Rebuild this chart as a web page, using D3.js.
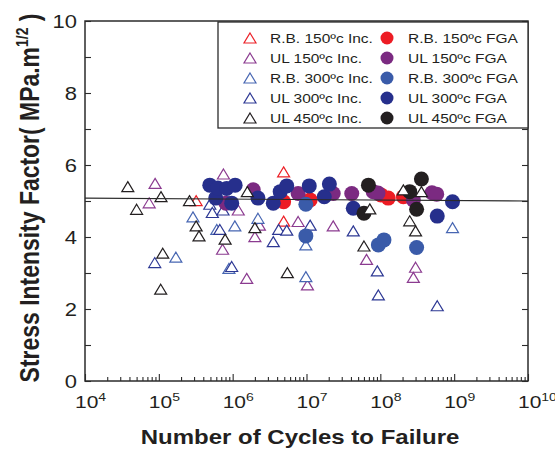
<!DOCTYPE html>
<html>
<head>
<meta charset="utf-8">
<script src="https://cdn.jsdelivr.net/npm/d3@7"></script>
<style>
  body { margin: 0; background: #fff; }
  text { font-family: "Liberation Sans", Arial, sans-serif; fill: #231f20; }
</style>
</head>
<body>
<div id="chart"></div>
<script>
// ---- data (cycles to failure N, stress intensity factor K) ----
const rb150IncN = [3.2e5, 4.9e6, 4.9e6];
const rb150IncK = [5.01, 5.81, 4.44];
const ul150IncN = [8.9e4, 7.4e4, 7.5e5, 7.3e5, 1.19e6, 2.3e6, 2.0e6, 7.7e6, 2.3e7, 6.5e7, 1.55e6, 1.03e7, 3.0e8, 2.8e8];
const ul150IncK = [5.49, 4.95, 5.75, 3.66, 4.75, 4.33, 4.01, 4.43, 4.31, 3.38, 2.85, 2.67, 3.16, 2.88];
const rb300IncN = [2.9e5, 1.7e5, 6.1e5, 8.9e5, 9.8e6, 9.8e6, 2.2e6, 1.07e6, 9.5e8];
const rb300IncK = [4.56, 3.44, 4.21, 3.13, 3.78, 2.90, 4.52, 4.31, 4.26];
const ul300IncN = [4.9e5, 5.3e5, 6.7e5, 8.8e4, 7.4e5, 1.12e7, 4.3e7, 4.2e6, 5.4e6, 3.55e6, 9.7e5, 9.1e7, 9.4e7, 5.9e8];
const ul300IncK = [4.91, 4.68, 4.21, 3.29, 4.75, 4.33, 4.17, 4.21, 4.19, 3.87, 3.18, 3.06, 2.39, 2.09];
const ul450IncN = [3.8e4, 1.07e5, 5.0e4, 2.6e5, 3.2e5, 3.5e5, 7.9e5, 1.13e5, 1.06e5, 1.58e6, 2.0e6, 5.5e6, 6.0e7, 7.2e7, 2.05e8, 3.6e8, 2.5e8, 3.0e8];
const ul450IncK = [5.40, 5.12, 4.77, 5.01, 4.31, 4.03, 3.94, 3.55, 2.55, 5.26, 4.26, 3.01, 3.75, 4.78, 5.31, 5.26, 4.45, 4.17];

const rb150FgaN = [4.9e6, 1.12e7, 1.02e8, 1.28e8, 2.05e8];
const rb150FgaK = [4.98, 5.03, 5.17, 5.08, 5.12];
const ul150FgaN = [8.1e5, 1.9e6, 7.7e6, 2.3e7, 4.1e7, 8.0e7, 9.3e7, 2.8e8, 5.0e8, 5.8e8];
const ul150FgaK = [4.94, 5.31, 5.21, 5.21, 5.21, 5.26, 5.22, 5.03, 5.23, 5.19];
const rb300FgaN = [9.8e6, 9.8e6, 9.4e7, 1.12e8, 3.1e8];
const rb300FgaK = [4.91, 4.03, 3.78, 3.92, 3.71];
const ul300FgaN = [4.9e5, 5.9e5, 6.3e5, 8.3e5, 1.08e6, 9.7e5, 2.2e6, 3.55e6, 4.4e6, 5.4e6, 1.09e7, 1.74e7, 2.04e7, 4.3e7, 5.9e8, 9.5e8];
const ul300FgaK = [5.44, 5.08, 5.36, 5.35, 5.44, 4.94, 5.08, 4.94, 5.26, 5.42, 5.42, 5.12, 5.47, 4.80, 4.58, 4.98];
const ul450FgaN = [6.9e7, 6.0e7, 2.5e8, 3.6e8, 3.1e8];
const ul450FgaK = [5.44, 4.66, 5.26, 5.61, 4.77];

// fitted line end points
const fitN = [1e4, 1e10];
const fitK = [5.08, 5.00];

const xMajor = [1e4, 1e5, 1e6, 1e7, 1e8, 1e9, 1e10];
const xExp = ["4", "5", "6", "7", "8", "9", "10"];
const yMajor = [0, 2, 4, 6, 8, 10];
const yMinor = [1, 3, 5, 7, 9];

const incSeries = [
  { label: "R.B. 150\u00bac Inc.", n: rb150IncN, k: rb150IncK, color: "#ec2027" },
  { label: "UL 150\u00bac Inc.", n: ul150IncN, k: ul150IncK, color: "#8b3b90" },
  { label: "R.B. 300\u00bac Inc.", n: rb300IncN, k: rb300IncK, color: "#4766b2" },
  { label: "UL 300\u00bac Inc.", n: ul300IncN, k: ul300IncK, color: "#2d3894" },
  { label: "UL 450\u00bac Inc.", n: ul450IncN, k: ul450IncK, color: "#231f20" }
];
const fgaSeries = [
  { label: "R.B. 150\u00bac FGA", n: rb150FgaN, k: rb150FgaK, color: "#ed1c24" },
  { label: "UL 150\u00bac FGA", n: ul150FgaN, k: ul150FgaK, color: "#7b2a81" },
  { label: "R.B. 300\u00bac FGA", n: rb300FgaN, k: rb300FgaK, color: "#3a5ba9" },
  { label: "UL 300\u00bac FGA", n: ul300FgaN, k: ul300FgaK, color: "#262f8c" },
  { label: "UL 450\u00bac FGA", n: ul450FgaN, k: ul450FgaK, color: "#231f20" }
];

// ---- layout ----
const W = 555, H = 451;
const margin = { top: 21, right: 27, bottom: 70, left: 85 },
  width = W - margin.left - margin.right,
  height = H - margin.top - margin.bottom,
  squash = 0.82,
  axisColor = "#2b2b2b";

const svg = d3.select("#chart").append("svg")
  .attr("width", W).attr("height", H);
const g = svg.append("g")
  .attr("transform", "translate(" + margin.left + "," + margin.top + ")");

const x = d3.scaleLog().domain([1e4, 1e10]).range([0, width]);
const y = d3.scaleLinear().domain([0, 10]).range([height, 0]);

const xMinor = [];
for (let e = 4; e < 10; e++) for (let m = 2; m <= 9; m++) xMinor.push(m * Math.pow(10, e));

function tri(cx, cy, w, h) {
  return "M" + cx + "," + (cy - h / 2) + "L" + (cx + w / 2) + "," + (cy + h / 2) +
    "L" + (cx - w / 2) + "," + (cy + h / 2) + "Z";
}
function pts(s) {
  return s.n.map((d, i) => ({ n: d, k: s.k[i], color: s.color }));
}

// ---- ticks (inward; bottom, left and right) ----
function styleAxis(sel) {
  sel.select(".domain").remove();
  sel.selectAll(".tick line").attr("stroke", axisColor).attr("stroke-width", 1.1);
  sel.selectAll(".tick text").remove();
}
g.append("g").attr("transform", "translate(0," + height + ")")
  .call(d3.axisBottom(x).tickValues(xMajor).tickSize(-7).tickFormat("")).call(styleAxis);
g.append("g").attr("transform", "translate(0," + height + ")")
  .call(d3.axisBottom(x).tickValues(xMinor).tickSize(-4).tickFormat("")).call(styleAxis);
g.append("g")
  .call(d3.axisLeft(y).tickValues(yMajor.concat(yMinor)).tickSize(-6).tickFormat("")).call(styleAxis);
g.append("g").attr("transform", "translate(" + width + ",0)")
  .call(d3.axisRight(y).tickValues(yMajor.concat(yMinor)).tickSize(-6).tickFormat("")).call(styleAxis);

// ---- tick labels ----
xMajor.forEach((v, i) => {
  const t = svg.append("text")
    .attr("transform", "translate(" + (margin.left + x(v) - 10) + "," + (margin.top + height + 27) + ") scale(1," + squash + ")")
    .attr("font-size", 21);
  t.append("tspan").text("10");
  t.append("tspan").attr("dy", -8).attr("font-size", 14).text(xExp[i]);
});
yMajor.forEach(v => {
  svg.append("text")
    .attr("transform", "translate(" + (margin.left - 8) + "," + (margin.top + y(v) + 6.5) + ") scale(1," + squash + ")")
    .attr("text-anchor", "end")
    .attr("font-size", 22)
    .text(v);
});

// ---- axis titles ----
svg.append("text")
  .attr("transform", "translate(300,444) scale(1," + squash + ")")
  .attr("text-anchor", "middle")
  .attr("font-size", 24)
  .attr("font-weight", "bold")
  .text("Number of Cycles to Failure");

const yt = svg.append("text")
  .attr("transform", "translate(39,198) scale(1," + squash + ") rotate(-90)")
  .attr("text-anchor", "middle")
  .attr("font-size", 28)
  .attr("font-weight", "bold");
yt.append("tspan").text("Stress Intensity Factor( MPa.m");
yt.append("tspan").attr("dy", -11).attr("font-size", 17).text("1/2");
yt.append("tspan").attr("dy", 11).text(" )");

// ---- marks ----
const incColored = incSeries.slice(0, 4).flatMap(pts);
const incBlack = pts(incSeries[4]);
const fga = fgaSeries.flatMap(pts);

g.selectAll(".tri-c").data(incColored).enter().append("path")
  .attr("class", "tri-c")
  .attr("d", d => tri(x(d.n), y(d.k), 12, 10))
  .attr("fill", "#fff").attr("stroke", d => d.color).attr("stroke-width", 1.2);

g.selectAll(".fga").data(fga).enter().append("circle")
  .attr("class", "fga")
  .attr("cx", d => x(d.n)).attr("cy", d => y(d.k)).attr("r", 7.5)
  .attr("fill", d => d.color);

g.selectAll(".tri-k").data(incBlack).enter().append("path")
  .attr("class", "tri-k")
  .attr("d", d => tri(x(d.n), y(d.k), 12, 10))
  .attr("fill", "#fff").attr("stroke", d => d.color).attr("stroke-width", 1.2);

g.append("path")
  .datum(fitN.map((d, i) => [d, fitK[i]]))
  .attr("fill", "none").attr("stroke", "#2b2b2b").attr("stroke-width", 1.1)
  .attr("d", d3.line().x(d => x(d[0])).y(d => y(d[1])));

// ---- frame ----
g.append("rect").attr("width", width).attr("height", height)
  .attr("fill", "none").attr("stroke", axisColor).attr("stroke-width", 1.5);

// ---- legend ----
const lg = g.append("g").attr("transform", "translate(" + (218 - margin.left) + ",1)");
lg.append("rect").attr("width", 528 - 218).attr("height", 106)
  .attr("fill", "#fff").attr("stroke", axisColor).attr("stroke-width", 1.3);
incSeries.forEach((s, i) => {
  const cy = 16 + i * 20;
  lg.append("path").attr("d", tri(32, cy, 12, 10))
    .attr("fill", "none").attr("stroke", s.color).attr("stroke-width", 1.2);
  lg.append("text")
    .attr("transform", "translate(52," + (cy + 5) + ") scale(1," + squash + ")")
    .attr("font-size", 15.5).text(s.label);
});
fgaSeries.forEach((s, i) => {
  const cy = 16 + i * 20;
  lg.append("circle").attr("cx", 169).attr("cy", cy).attr("r", 6.5).attr("fill", s.color);
  lg.append("text")
    .attr("transform", "translate(190," + (cy + 5) + ") scale(1," + squash + ")")
    .attr("font-size", 15.5).text(s.label);
});
</script>
</body>
</html>
